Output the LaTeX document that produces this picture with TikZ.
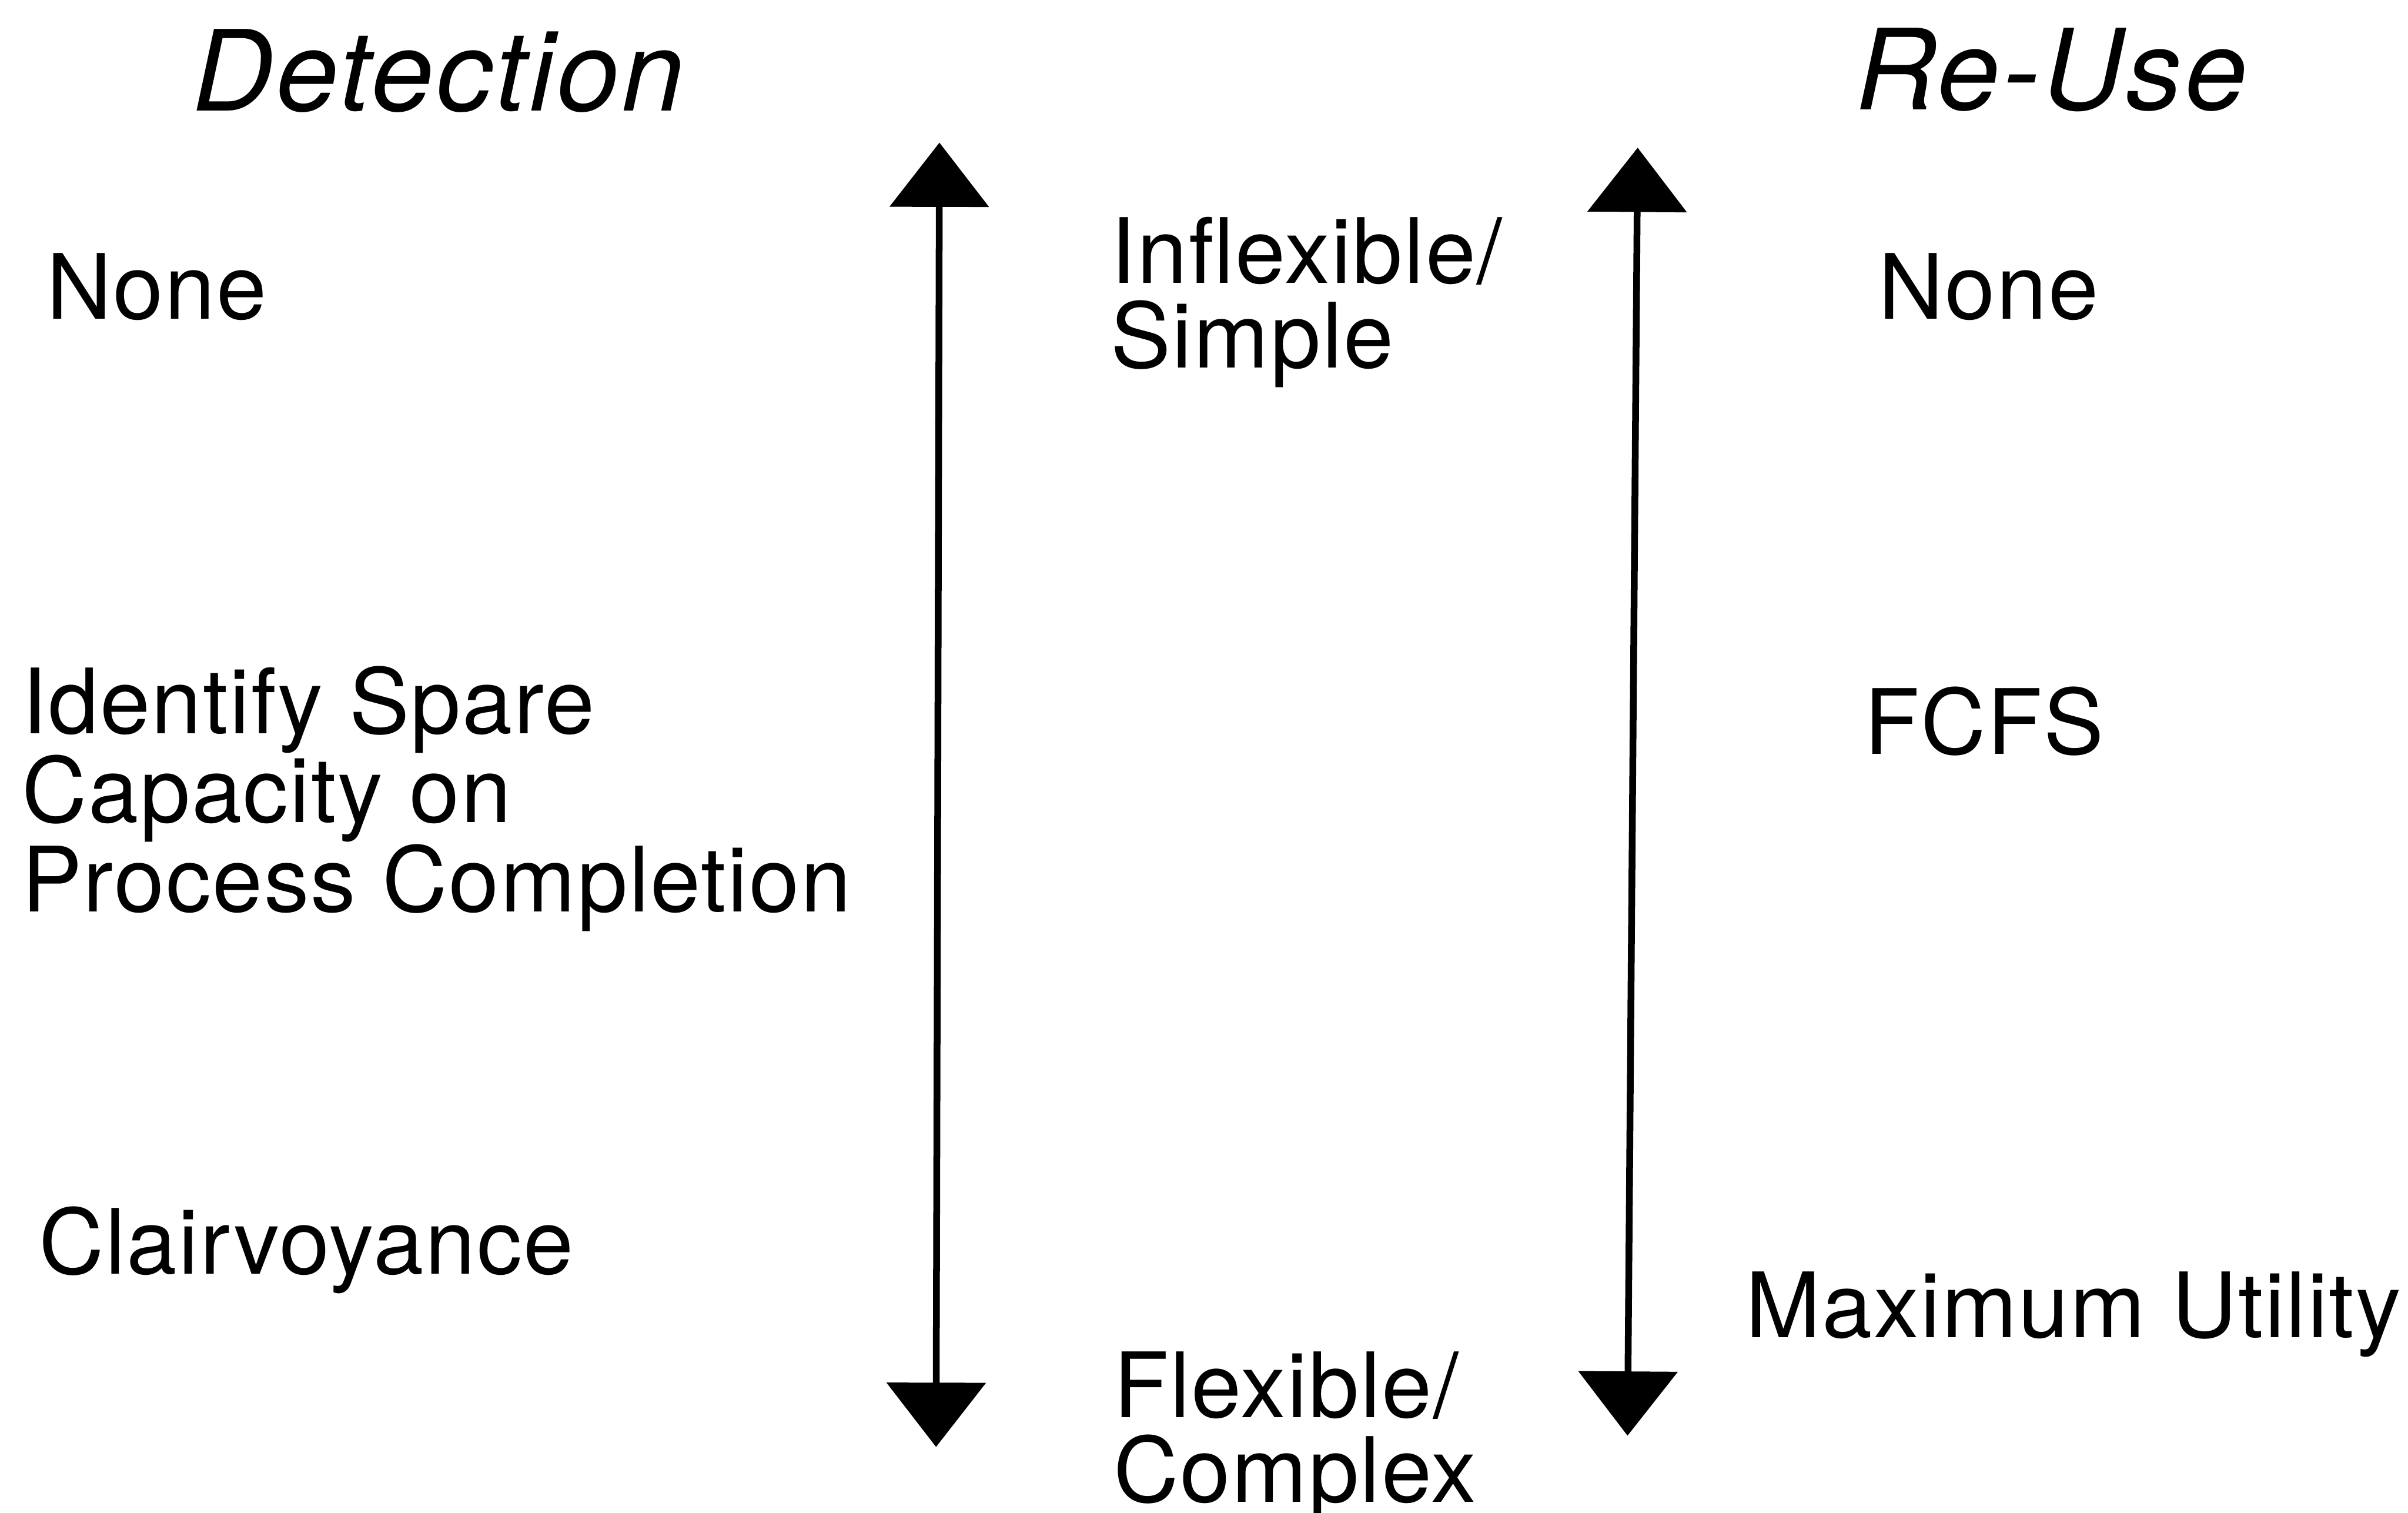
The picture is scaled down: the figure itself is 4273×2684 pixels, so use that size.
\documentclass[tikz,border=0pt]{standalone}
\usepackage{fontspec}
\setmainfont{TeX Gyre Heros}
\newfontfamily\bodyfont[LetterSpace=1.6]{TeX Gyre Heros}
\newfontfamily\headfont[LetterSpace=2.5]{TeX Gyre Heros}
\usetikzlibrary{arrows.meta}
\begin{document}
\begin{tikzpicture}[x=0.01cm,y=-0.01cm,
  % multi-line labels are placed by the baseline of their last line
  label/.style={anchor=base west,inner sep=0pt,outer sep=0pt,align=left,
    font=\bodyfont\fontsize{45.5pt}{42.7pt}\selectfont},
  heading/.style={anchor=base west,inner sep=0pt,outer sep=0pt,
    font=\headfont\fontsize{56.5pt}{60pt}\selectfont\itshape},
  scale arrow/.style={line width=0.12cm,
    {Triangle[length=1.14cm,width=1.74cm]}-{Triangle[length=1.14cm,width=1.74cm]}}]
  \useasboundingbox (0,0) rectangle (4273,2684);

  % column headings
  \node[heading] (det) at (342,197) {Detection};
  \node[heading] (reuse) at (3293,195) {Re-Use};

  % detection options
  \node[label] (dnone) at (83,566) {None};
  \node[label] (dspare) at (39,1617) {Identify Spare\\Capacity on\\Process Completion};
  \node[label] (dclair) at (69,2260) {Clairvoyance};

  % re-use options
  \node[label] (rnone) at (3334,566) {None};
  \node[label] (rfcfs) at (3308,1338) {FCFS};
  \node[label] (rmax) at (3098,2373) {Maximum Utility};

  % ends of the scale
  \node[label] (simple) at (1971,652) {Inflexible/\\Simple};
  \node[label] (complex) at (1976,2665) {Flexible/\\Complex};

  % double-headed scale arrows
  \coordinate (ltop) at (1667,253);
  \coordinate (lbot) at (1661,2567);
  \coordinate (rtop) at (2906,262);
  \coordinate (rbot) at (2888,2547);
  \draw[scale arrow] (lbot) -- (ltop);
  \draw[scale arrow] (rbot) -- (rtop);
\end{tikzpicture}
\end{document}
